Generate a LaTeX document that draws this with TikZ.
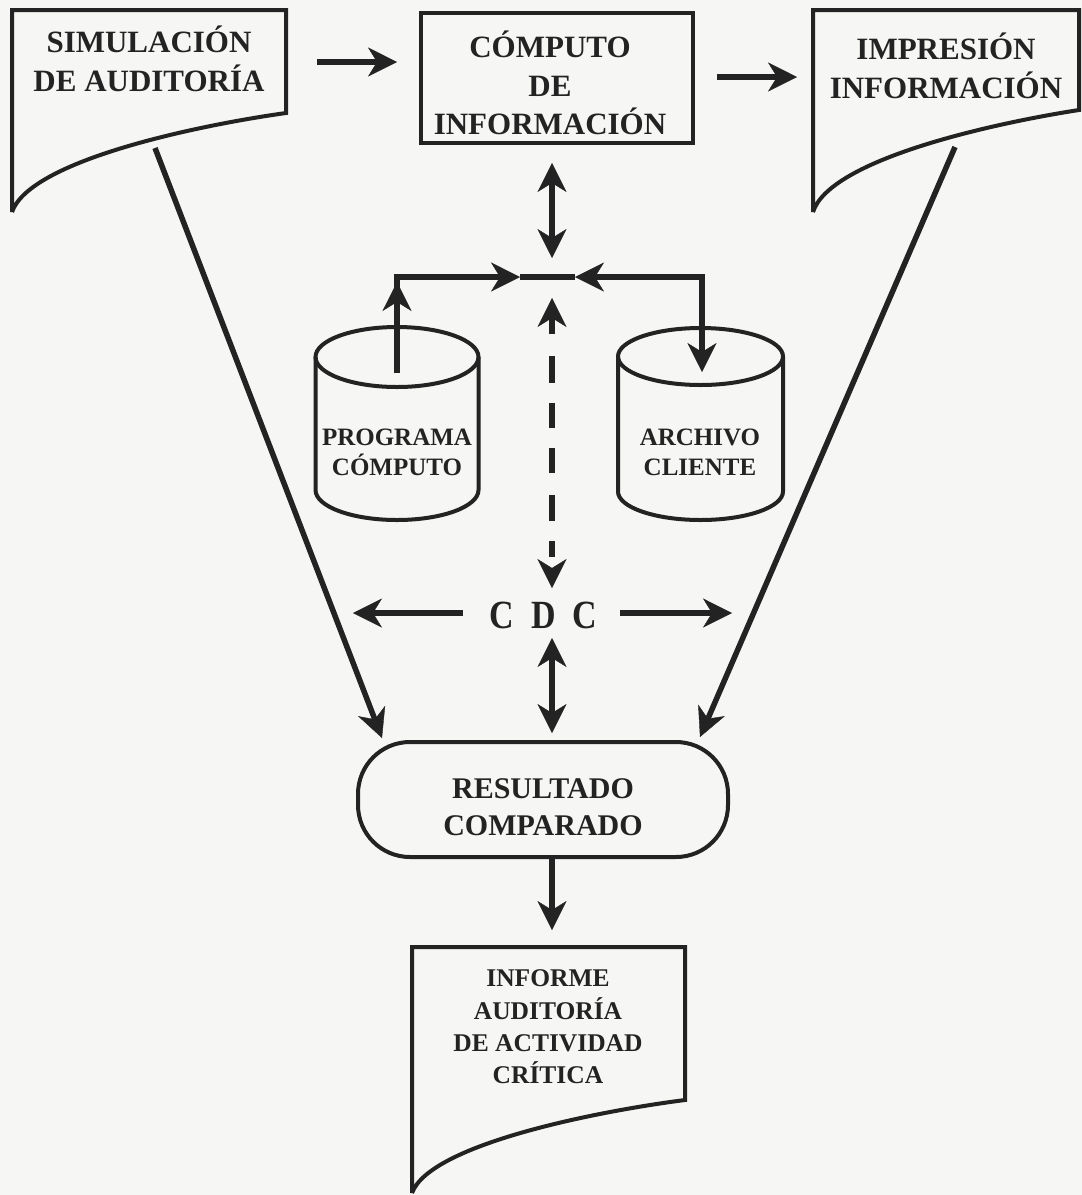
\documentclass[tikz,border=0pt]{standalone}
\usepackage{fontspec}
\usepackage{graphicx}
\setmainfont{Liberation Serif}
\usetikzlibrary{arrows.meta}
\definecolor{ink}{HTML}{232323}
\definecolor{paper}{HTML}{F6F6F4}
\tikzset{mytip/.tip={Stealth[length=29pt,width=29pt,inset=9pt,line width=0.4pt]}}
\begin{document}
\begin{tikzpicture}[x=1pt,y=-1pt,
  box/.style={line width=4pt, draw=ink, line join=miter},
  arr/.style={line width=6.5pt, draw=ink, -{mytip}},
  darr/.style={line width=6.5pt, draw=ink, {mytip}-{mytip}},
  diag/.style={line width=5.5pt, draw=ink, -{mytip}},
  bigtxt/.style={text=ink, align=center, inner sep=0pt, font=\bfseries\fontsize{31}{38.5}\selectfont},
  midtxt/.style={text=ink, align=center, inner sep=0pt, font=\bfseries\fontsize{25}{30}\selectfont},
  smalltxt/.style={text=ink, align=center, inner sep=0pt, font=\bfseries\fontsize{25.5}{32.3}\selectfont}
]
% page
\fill[paper] (0,0) rectangle (1082,1195);
\useasboundingbox (0,0) rectangle (1082,1195);

% ---------- document: SIMULACION DE AUDITORIA
\draw[box] (12,212) -- (12,10) -- (286,10) -- (286,113)
  .. controls (200,125) and (30,160) .. (12,212);
\node[bigtxt] (sim) at (149,59) {SIMULACIÓN\\DE AUDITORÍA};
\coordinate (simE) at (317,62);
\coordinate (simS) at (155,148);

% ---------- process: COMPUTO DE INFORMACION
\draw[box] (421,13) rectangle (693,143);
\node[bigtxt] (comp) at (550,83) {CÓMPUTO\\DE\\INFORMACIÓN};
\coordinate (compW) at (397,62);
\coordinate (compE) at (717,77);
\coordinate (compS) at (552,163);

% ---------- document: IMPRESION INFORMACION
\draw[box] (813,212) -- (813,10) -- (1079,10) -- (1079,110)
  .. controls (995,123) and (830,159) .. (813,212);
\node[bigtxt] (impr) at (946,66) {IMPRESIÓN\\INFORMACIÓN};
\coordinate (imprW) at (797,77);
\coordinate (imprS) at (955,147);

% ---------- cylinder: PROGRAMA COMPUTO
\draw[box] (315.5,357) -- (315.5,490) arc[start angle=180, end angle=0, x radius=81.5, y radius=30] -- (478.5,357);
\draw[box] (397,357) ellipse[x radius=81.5, y radius=30];
\node[midtxt] (prog) at (397,452) {PROGRAMA\\CÓMPUTO};
\coordinate (progT) at (397,373);

% ---------- cylinder: ARCHIVO CLIENTE
\draw[box] (618,356.5) -- (618,491.5) arc[start angle=180, end angle=0, x radius=82.5, y radius=28.5] -- (783,356.5);
\draw[box] (700.5,356.5) ellipse[x radius=82.5, y radius=28.5];
\node[midtxt] (arch) at (700,452) {ARCHIVO\\CLIENTE};
\coordinate (archT) at (702,372);

% ---------- CDC
\node[text=ink, inner sep=0pt, font=\bfseries\fontsize{40}{40}\selectfont] (cdc) at (543.5,615)
  {\scalebox{0.85}[1]{C\hspace{20pt}D\hspace{20pt}C}};
\coordinate (cdcN) at (552,588);
\coordinate (cdcL) at (463,613);
\coordinate (cdcR) at (620,613);
\coordinate (leftEnd) at (353,613);
\coordinate (rightEnd) at (732,613);

% ---------- terminator: RESULTADO COMPARADO
\draw[box, rounded corners=52pt] (358,742) rectangle (728,857);
\node[bigtxt, font=\bfseries\fontsize{30}{37}\selectfont] (res) at (543,807) {RESULTADO\\COMPARADO};
\coordinate (resNW) at (382,738);
\coordinate (resN) at (552,638);
\coordinate (resNt) at (552,733);
\coordinate (resNE) at (700,737);
\coordinate (resS) at (552,859);

% ---------- document: INFORME
\draw[box] (412,1193) -- (412,947) -- (685,947) -- (685,1100)
  .. controls (599,1111) and (430,1144) .. (412,1193);
\node[smalltxt] (inf) at (548,1027) {INFORME\\AUDITORÍA\\DE ACTIVIDAD\\CRÍTICA};
\coordinate (infN) at (552,930);

% ---------- junction of the loop
\coordinate (jL) at (397,277);
\coordinate (jR) at (702,277);
\coordinate (jA) at (520,277);
\coordinate (jB) at (575,277);
\coordinate (jTop) at (552,258);
\coordinate (dashTop) at (552,298);
\coordinate (upStart) at (397,330);
\coordinate (upTip) at (397,282);

% ---------- connectors
\draw[arr] (simE) -- (compW);
\draw[arr] (compE) -- (imprW);
\draw[darr] (compS) -- (jTop);
\draw[arr] (progT) -- (jL) -- (jA);
\draw[arr] (upStart) -- (upTip);
\draw[line width=6.5pt, draw=ink] (jA) -- (jB);
\draw[darr, line join=miter] (jB) -- (jR) -- (archT);
\draw[darr, dash pattern=on 16pt off 22pt on 27pt off 20pt on 25pt off 20pt on 25pt off 22pt on 26pt off 20pt] (dashTop) -- (cdcN);
\draw[arr] (cdcL) -- (leftEnd);
\draw[arr] (cdcR) -- (rightEnd);
\draw[darr] (resN) -- (resNt);
\draw[diag] (simS) -- (resNW);
\draw[diag] (imprS) -- (resNE);
\draw[arr] (resS) -- (infN);
\end{tikzpicture}
\end{document}
